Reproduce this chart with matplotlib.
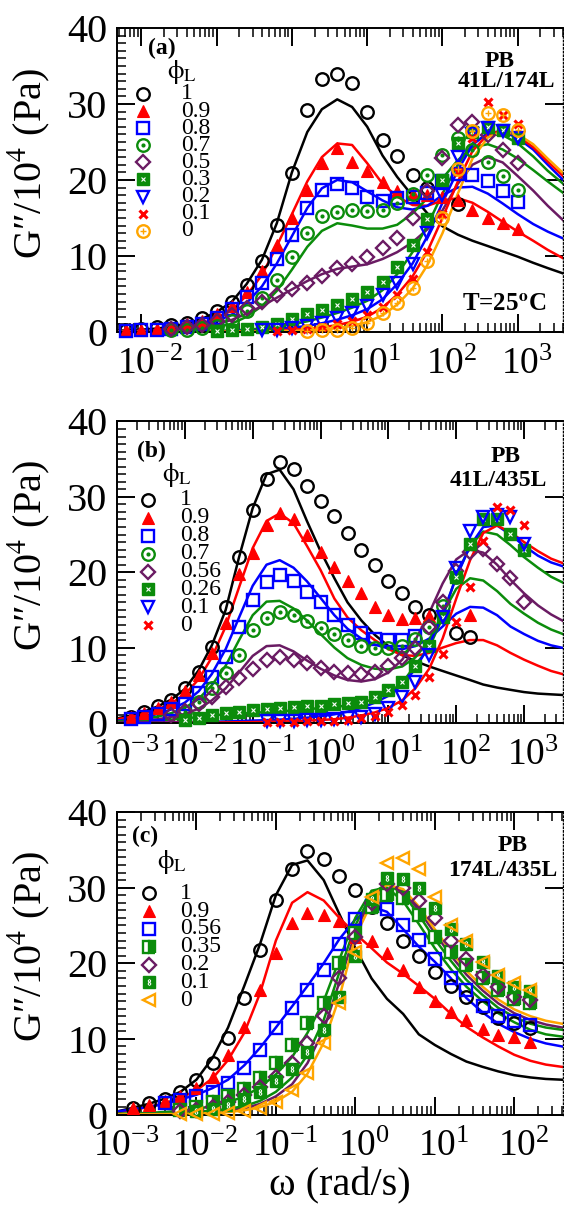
import numpy as np
import matplotlib
matplotlib.use("Agg")
import matplotlib.pyplot as plt
from matplotlib.transforms import ScaledTranslation
from matplotlib.ticker import LogLocator, MultipleLocator, LogFormatterMathtext, NullFormatter

plt.rcParams["font.family"] = "Liberation Serif"
plt.rcParams["mathtext.fontset"] = "stix"
plt.rcParams["axes.unicode_minus"] = False

nan = np.nan
green = "#0b8c0b"
purple = "#6a1b63"
orange = "#ffa500"

# ---------------- (a) PB 41L/174L ----------------
a_freq = [0.004, 0.0063, 0.01, 0.016, 0.025, 0.04, 0.063, 0.1, 0.16, 0.25, 0.4, 0.63, 1.0, 1.6, 2.5, 4.0,
          6.3, 10, 16, 25, 40, 63, 100, 160, 250, 400, 630, 1000, 1600, 2500, 4000]
a_pts_1 = [nan, 0.3, 0.35, 0.6, 0.9, 1.2, 1.8, 2.7, 3.9, 6.2, 9.3, 14.1, 20.9, 29.2, 33.3, 34.0, 32.8, 29.0,
           25.2, 23.2, 20.6, 18.9, nan, 16.8, nan, nan, nan, nan, nan, nan, nan]
a_fit_1 = [0.15, 0.2, 0.3, 0.45, 0.7, 1.1, 1.7, 2.6, 4.0, 6.3, 9.5, 14.3, 21.0, 26.3, 29.3, 30.6, 29.6, 27.0,
           23.2, 20.4, 17.9, 15.6, 13.9, 12.8, 12.0, 11.3, 10.6, 9.9, 9.1, 8.4, 7.7]
a_pts_09 = [nan, 0.2, 0.3, 0.45, 0.7, 1.0, 1.5, 2.3, 3.4, 5.2, 8.0, 11.4, 15.0, 18.7, 22.2, 24.2, 22.3, 21.2,
            19.7, 18.5, 18.2, 18.0, 17.8, 17.4, 16.1, 15.0, 14.3, 13.6, nan, nan, nan]
a_fit_09 = [0.08, 0.1, 0.15, 0.25, 0.4, 0.7, 1.1, 1.8, 2.9, 4.8, 7.5, 11.3, 15.5, 19.8, 23.0, 24.8, 24.6, 22.2,
            19.5, 17.8, 16.7, 16.6, 17.3, 17.6, 17.0, 15.8, 14.5, 13.2, 12.0, 10.8, 9.7]
a_pts_08 = [nan, 0.15, 0.2, 0.3, 0.45, 0.7, 1.0, 1.8, 3.0, 4.6, 6.4, 9.6, 12.8, 16.3, 18.7, 19.4, 18.9, 17.8,
            17.2, 17.6, 17.8, 18.3, 19.8, 20.8, 20.6, 19.8, 18.5, 17.1, nan, nan, nan]
a_fit_08 = [0.05, 0.08, 0.12, 0.2, 0.32, 0.5, 0.85, 1.4, 2.3, 3.8, 6.0, 9.0, 12.6, 16.3, 18.9, 20.0, 19.7, 18.5,
            17.3, 16.4, 16.1, 16.6, 18.0, 19.0, 19.1, 18.2, 16.9, 15.5, 14.2, 13.2, 12.3]
a_pts_07 = [nan, nan, nan, nan, 0.2, 0.3, 0.5, 0.8, 1.5, 2.7, 4.5, 6.8, 9.9, 13.0, 15.2, 15.8, 16.1, 15.9,
            16.0, 17.0, 18.2, 20.7, 23.3, 25.5, 24.0, 22.4, 20.5, 18.7, nan, nan, nan]
a_fit_07 = [0.02, 0.03, 0.05, 0.08, 0.12, 0.2, 0.35, 0.6, 1.1, 2.0, 3.4, 5.4, 8.2, 11.2, 13.3, 14.3, 14.0, 13.6,
            13.6, 14.1, 15.6, 17.6, 20.2, 22.6, 24.3, 24.7, 24.0, 22.8, 21.3, 19.8, 18.3]
a_pts_05 = [nan, nan, nan, nan, 0.4, 0.6, 0.9, 1.4, 2.2, 3.1, 4.0, 4.9, 5.7, 6.4, 7.4, 8.4, 9.0, 9.9,
            11.0, 12.4, 15.0, 18.5, 22.9, 27.2, 27.6, 25.9, 23.9, 22.2, nan, nan, nan]
a_fit_05 = [0.02, 0.05, 0.08, 0.12, 0.2, 0.35, 0.6, 1.0, 1.6, 2.4, 3.4, 4.5, 5.6, 6.7, 7.6, 8.3, 8.6, 8.9,
            9.6, 10.5, 11.8, 13.5, 16.0, 19.5, 22.0, 23.0, 22.3, 20.5, 18.6, 16.6, 14.7]
a_pts_03 = [nan, nan, nan, nan, nan, nan, nan, 0.1, 0.2, 0.4, 0.7, 1.1, 1.7, 2.3, 2.9, 3.6, 4.3, 5.2,
            6.6, 8.5, 11.5, 14.8, 20.0, 24.8, 26.3, 27.0, 26.6, 25.5, nan, nan, nan]
a_fit_03 = [0.01, 0.01, 0.02, 0.03, 0.04, 0.06, 0.09, 0.13, 0.2, 0.3, 0.45, 0.7, 1.0, 1.4, 1.9, 2.5, 3.2, 4.1,
            5.5, 7.6, 10.5, 14.0, 18.2, 22.0, 24.8, 26.0, 25.9, 24.8, 23.1, 21.2, 19.5]
a_pts_02 = [nan, nan, nan, nan, nan, nan, nan, nan, nan, nan, 0.2, 0.3, 0.5, 0.8, 1.2, 1.8, 2.5, 3.4,
            4.8, 6.5, 9.0, 13.0, 18.0, 23.0, 26.0, 26.8, 26.5, 25.5, nan, nan, nan]
a_fit_02 = [0.01, 0.01, 0.01, 0.02, 0.03, 0.04, 0.06, 0.09, 0.13, 0.19, 0.27, 0.38, 0.55, 0.8, 1.15, 1.6, 2.2,
            3.0, 4.3, 6.3, 9.0, 12.6, 17.0, 21.3, 24.6, 26.2, 26.4, 25.5, 24.0, 22.0, 20.0]
a_pts_01 = [nan, nan, nan, nan, nan, nan, nan, nan, nan, nan, nan, 0.1, 0.2, 0.4, 0.6, 1.0, 1.5, 2.2,
            3.3, 4.8, 7.0, 10.5, 15.5, 21.0, 25.5, 30.3, 28.5, 27.4, nan, nan, nan]
a_fit_01 = [0.005, 0.007, 0.01, 0.014, 0.02, 0.028, 0.04, 0.055, 0.08, 0.11, 0.15, 0.21, 0.3, 0.42, 0.6, 0.9,
            1.35, 2.0, 3.2, 4.9, 7.3, 10.6, 15.0, 19.8, 23.8, 26.0, 26.5, 25.8, 24.3, 22.4, 20.5]
a_pts_0 = [nan, nan, nan, nan, nan, nan, nan, nan, nan, nan, nan, nan, nan, 0.1, 0.2, 0.3, 0.5, 1.2,
           2.5, 3.8, 5.8, 9.3, 15.0, 21.5, 26.5, 28.8, 28.6, 26.6, nan, nan, nan]
a_fit_0 = [0.003, 0.004, 0.006, 0.008, 0.011, 0.015, 0.02, 0.03, 0.04, 0.055, 0.075, 0.1, 0.14, 0.2, 0.3, 0.5,
           0.8, 1.3, 2.2, 3.6, 5.7, 8.8, 13.0, 18.2, 22.8, 25.6, 26.4, 26.0, 24.7, 22.8, 20.9]

# ---------------- (b) PB 41L/435L ----------------
b_freq = [0.001, 0.0016, 0.0025, 0.004, 0.0063, 0.01, 0.016, 0.025, 0.04, 0.063, 0.1, 0.16, 0.25, 0.4, 0.63,
          1.0, 1.6, 2.5, 4.0, 6.3, 10, 16, 25, 40, 63, 100, 160, 250, 400, 630, 1000, 1600, 2500, 4000]
b_pts_1 = [nan, 0.8, 1.5, 2.2, 3.0, 4.6, 6.8, 10.1, 15.4, 22.0, 28.2, 32.4, 34.6, 33.7, 31.5, 29.5, 27.5,
           25.2, 22.9, 20.9, 18.9, 17.2, 15.4, 14.3, nan, 11.9, 11.4, nan, nan, nan, nan, nan, nan, nan]
b_fit_1 = [0.6, 1.0, 1.5, 2.2, 3.1, 4.5, 7.0, 10.3, 15.0, 22.0, 28.5, 33.0, 33.6, 31.0, 26.8, 22.8, 19.2,
           16.0, 13.6, 11.7, 10.2, 9.0, 8.2, 7.5, 6.9, 6.3, 5.7, 5.1, 4.7, 4.4, 4.1, 3.9, 3.8, 3.7]
b_pts_09 = [nan, 0.8, 1.3, 2.0, 2.8, 4.2, 6.3, 9.3, 13.2, 19.8, 22.5, 26.2, 27.8, 27.1, 24.9, 22.7, 20.7,
            18.9, 17.2, 15.4, 14.3, 13.8, 13.9, 14.2, nan, nan, 14.3, nan, nan, nan, nan, nan, nan, nan]
b_fit_09 = [0.5, 0.8, 1.2, 1.8, 2.6, 3.8, 5.8, 8.7, 12.8, 18.0, 23.2, 26.8, 27.8, 26.5, 23.5, 20.3, 16.5,
            14.0, 12.3, 11.0, 9.8, 9.0, 8.9, 9.3, 10.0, 10.6, 11.0, 11.0, 10.3, 9.3, 8.4, 7.6, 6.9, 6.4]
b_pts_08 = [nan, 0.5, 0.8, 1.2, 1.8, 2.5, 4.0, 6.1, 8.8, 12.8, 16.3, 18.7, 19.6, 18.9, 17.4, 16.0, 14.3,
            13.0, 12.0, 11.2, 11.0, 11.0, 11.5, nan, nan, nan, nan, nan, nan, nan, nan, nan, nan, nan]
b_fit_08 = [0.3, 0.5, 0.8, 1.2, 1.8, 2.7, 4.2, 6.5, 9.8, 14.0, 18.2, 21.0, 21.6, 20.6, 18.8, 16.6, 14.3,
            12.5, 11.2, 10.4, 9.9, 9.8, 10.2, 11.2, 12.8, 14.5, 15.4, 15.3, 14.3, 12.8, 11.8, 10.9, 10.3, 9.9]
b_pts_07 = [nan, nan, nan, nan, nan, 1.5, 2.8, 4.6, 6.6, 9.0, 12.3, 13.9, 14.7, 14.3, 13.5, 12.6, 11.8,
            11.0, 10.2, 9.9, 9.9, 10.2, 11.2, 12.8, 15.5, 19.4, nan, nan, nan, nan, nan, nan, nan, nan]
b_fit_07 = [0.2, 0.35, 0.55, 0.85, 1.3, 2.0, 3.2, 5.0, 7.6, 11.0, 14.3, 16.1, 16.2, 15.2, 13.6, 11.8, 10.0,
            8.6, 7.7, 7.2, 7.1, 7.5, 8.7, 11.0, 14.5, 17.8, 19.2, 18.9, 17.5, 15.8, 14.5, 13.3, 12.4, 11.7]
b_pts_056 = [nan, nan, nan, nan, 1.0, 1.6, 2.5, 3.5, 4.8, 6.0, 7.2, 8.3, 8.8, 8.4, 7.9, 7.3, 6.8,
             6.6, 6.5, 6.8, 7.5, 8.6, 10.0, 12.8, 16.1, 20.2, 22.7, 23.1, 21.1, 19.2, 16.1, nan, nan, nan]
b_fit_056 = [0.1, 0.2, 0.3, 0.5, 0.8, 1.2, 1.9, 3.0, 4.6, 6.7, 8.9, 10.2, 10.3, 9.5, 8.3, 7.2, 6.3,
             5.7, 5.5, 5.8, 6.7, 8.4, 11.0, 14.6, 18.5, 21.7, 23.0, 22.6, 21.0, 19.0, 17.2, 15.6, 14.4, 13.4]
b_pts_026 = [nan, nan, nan, nan, nan, 0.4, 0.6, 1.1, 1.3, 1.5, 1.7, 1.9, 2.0, 2.1, 2.2, 2.3, 2.5,
             2.7, 2.8, 3.4, 4.4, 5.5, 7.5, 10.2, 14.0, 19.4, 23.8, 27.1, 27.1, 25.1, 22.9, nan, nan, nan]
b_fit_026 = [0.1, 0.15, 0.2, 0.3, 0.45, 0.6, 0.8, 1.0, 1.15, 1.25, 1.35, 1.45, 1.55, 1.65, 1.8, 2.0, 2.15,
             2.3, 2.7, 3.2, 4.0, 5.3, 7.7, 10.0, 14.0, 19.5, 23.5, 25.4, 25.0, 23.6, 22.0, 20.6, 19.4, 18.5]
b_pts_01 = [nan, nan, nan, nan, nan, nan, nan, nan, nan, nan, nan, 0.2, 0.25, 0.3, 0.35, 0.4, 0.5,
            0.6, 0.8, 1.2, 2.0, 3.4, 5.5, 9.0, 14.0, 20.5, 25.5, 27.3, 27.6, 27.3, 23.8, nan, nan, nan]
b_fit_01 = [0.02, 0.03, 0.04, 0.06, 0.08, 0.1, 0.13, 0.17, 0.21, 0.26, 0.32, 0.38, 0.45, 0.55, 0.7, 0.9, 1.15,
            1.5, 2.0, 2.7, 3.6, 5.0, 7.2, 10.3, 14.5, 19.3, 23.5, 26.0, 26.2, 25.0, 23.5, 22.2, 21.3, 20.7]
b_pts_0 = [nan, nan, nan, nan, nan, nan, nan, nan, nan, nan, nan, 0.1, 0.1, 0.15, 0.2, 0.25, 0.3,
           0.4, 0.6, 0.9, 1.5, 2.4, 3.7, 6.1, 9.2, 13.4, 18.0, 24.2, 28.7, 28.2, 26.2, nan, nan, nan]
b_fit_0 = [0.01, 0.01, 0.02, 0.02, 0.03, 0.04, 0.05, 0.06, 0.08, 0.1, 0.12, 0.15, 0.19, 0.24, 0.3, 0.4, 0.5,
           0.7, 1.0, 1.4, 2.0, 3.0, 4.6, 7.2, 11.2, 16.5, 21.6, 25.2, 26.2, 25.3, 24.0, 22.8, 21.8, 21.1]

# ---------------- (c) PB 174L/435L ----------------
c_freq = [0.001, 0.0016, 0.0025, 0.004, 0.0063, 0.01, 0.016, 0.025, 0.04, 0.063, 0.1, 0.16, 0.25, 0.4, 0.63,
          1.0, 1.6, 2.5, 4.0, 6.3, 10, 16, 25, 40, 63, 100, 160, 250, 400]
c_pts_1 = [nan, 0.8, 1.5, 2.1, 3.0, 4.6, 6.8, 10.1, 15.4, 21.8, 28.4, 32.5, 34.8, 33.8, 31.6, 29.7, 27.5,
           25.3, 23.0, 20.9, 18.9, 17.0, 15.5, 14.2, 12.7, 12.1, 11.4, nan, nan]
c_fit_1 = [0.4, 0.9, 1.4, 2.1, 3.0, 4.6, 7.5, 11.5, 17.0, 22.5, 29.0, 33.0, 33.6, 31.0, 26.5, 22.0, 18.0,
           15.3, 13.3, 10.6, 9.2, 8.0, 7.0, 6.3, 5.7, 5.2, 4.9, 4.7, 4.6]
c_pts_09 = [nan, 0.8, 1.3, 1.8, 2.5, 3.5, 5.0, 7.9, 11.6, 16.5, 21.4, 25.3, 26.6, 26.4, 25.6, 23.5, 22.9,
            21.4, 19.1, 16.8, 15.0, 13.6, 12.5, 11.3, 10.5, 10.3, 9.6, nan, nan]
c_fit_09 = [0.3, 0.6, 1.0, 1.5, 2.2, 3.2, 4.8, 7.2, 10.8, 16.0, 23.0, 28.0, 29.4, 28.3, 26.0, 23.9, 22.0,
            20.1, 18.6, 17.0, 15.3, 13.3, 11.6, 10.2, 9.0, 7.9, 7.1, 6.6, 6.3]
c_pts_056 = [nan, nan, nan, 1.5, 1.9, 2.4, 3.0, 4.1, 6.1, 8.5, 11.4, 14.1, 16.5, 19.1, 22.5, 25.8, 27.6,
             27.2, 25.1, 23.1, 20.6, 18.0, 16.4, 14.3, 13.0, 12.3, 11.9, nan, nan]
c_fit_056 = [0.4, 0.7, 1.0, 1.4, 2.0, 2.6, 3.5, 4.6, 6.5, 8.8, 11.5, 14.3, 17.0, 20.0, 23.2, 25.8, 27.5,
             26.8, 24.5, 22.2, 20.2, 18.0, 15.4, 13.5, 12.0, 10.9, 10.0, 9.4, 9.0]
c_pts_035 = [nan, nan, nan, nan, 0.6, 1.0, 1.6, 2.4, 3.4, 4.8, 6.8, 9.2, 12.1, 14.7, 20.0, 24.0, 27.5,
             29.0, 28.6, 26.4, 23.5, 21.5, 19.8, 18.0, 16.5, 15.3, 14.7, nan, nan]
c_fit_035 = [0.1, 0.15, 0.22, 0.33, 0.5, 0.75, 1.1, 1.6, 2.4, 3.6, 5.3, 7.6, 10.8, 15.0, 20.5, 26.0, 29.6,
             30.0, 28.2, 25.2, 22.0, 19.2, 16.9, 15.0, 13.4, 12.2, 11.2, 10.6, 10.3]
c_pts_02 = [nan, nan, nan, nan, 0.4, 0.6, 1.0, 1.6, 2.6, 3.7, 5.0, 6.8, 9.4, 13.0, 18.0, 23.5, 28.0,
            30.5, 30.0, 28.2, 26.0, 23.0, 20.5, 18.5, 16.9, 15.6, 15.2, nan, nan]
c_fit_02 = [0.02, 0.04, 0.07, 0.11, 0.17, 0.26, 0.38, 0.55, 0.8, 1.4, 2.4, 4.0, 6.8, 11.2, 17.5, 24.0, 28.8,
            30.5, 29.5, 27.0, 24.0, 21.0, 18.5, 16.4, 14.7, 13.4, 12.5, 11.9, 11.5]
c_pts_01 = [nan, nan, nan, nan, nan, 0.4, 0.7, 1.2, 2.0, 3.0, 4.4, 6.0, 8.3, 11.2, 15.5, 21.0, 28.5,
            31.3, 31.2, 30.0, 27.3, 24.5, 22.5, 20.2, 18.3, 16.8, 16.3, nan, nan]
c_fit_01 = [0.03, 0.06, 0.1, 0.15, 0.23, 0.35, 0.5, 0.75, 1.1, 1.8, 3.0, 4.9, 7.9, 12.5, 18.8, 25.0, 29.2,
            30.5, 29.2, 26.4, 23.2, 20.3, 17.8, 15.8, 14.1, 12.9, 12.0, 11.5, 11.2]
c_pts_0 = [nan, nan, nan, nan, 0.02, 0.05, 0.1, 0.2, 0.4, 0.8, 1.7, 3.2, 5.5, 9.4, 14.7, 21.5, 28.8,
           33.3, 33.9, 32.4, 28.8, 25.1, 22.9, 20.2, 18.5, 17.4, 16.5, nan, nan]
c_fit_0 = [0.01, 0.02, 0.03, 0.05, 0.08, 0.12, 0.2, 0.32, 0.55, 0.95, 1.7, 3.0, 5.4, 9.5, 15.5, 23.5, 28.0,
           30.4, 29.8, 27.5, 24.5, 21.6, 19.0, 16.9, 15.2, 13.9, 13.0, 12.4, 12.0]

# marker styles: (outer marker, optional inner pattern)
STYLES = {
    "circ_k": (dict(marker="o", mfc="none", mec="k", ms=9, mew=1.7), None),
    "tri_r": (dict(marker="^", mfc="r", mec="r", ms=9, mew=0.8), None),
    "sq_b": (dict(marker="s", mfc="none", mec="b", ms=8, mew=1.7), None),
    "circ_g": (dict(marker="o", mfc="none", mec=green, ms=9, mew=1.7),
               dict(marker="o", mfc=green, mec=green, ms=3, mew=0)),
    "dia_p": (dict(marker="D", mfc="none", mec=purple, ms=7, mew=1.7), None),
    "sqx_g": (dict(marker="s", mfc=green, mec=green, ms=8, mew=1),
              dict(marker="x", mec="white", ms=3, mew=0.8)),
    "tdn_b": (dict(marker="v", mfc="none", mec="b", ms=9, mew=1.7), None),
    "x_r": (dict(marker="x", mec="r", ms=5.5, mew=2.2), None),
    "circ_o": (dict(marker="o", mfc="none", mec=orange, ms=9, mew=1.7),
               dict(marker="+", mec=orange, ms=5, mew=1)),
    "sqh_g": (dict(marker="s", mfc=green, mfcalt="white", fillstyle="right", mec=green, ms=8, mew=1.7), None),
    "sq8_g": (dict(marker="s", mfc=green, mec=green, ms=8, mew=1),
              dict(marker="$8$", mfc="white", mec="white", ms=4, mew=0.3)),
    "tl_o": (dict(marker="<", mfc="none", mec=orange, ms=9, mew=1.7), None),
}

panels = [
    dict(rect=[0.2074, 0.7252, 0.7917, 0.2517], xlim=(0.00475, 4045), freq=a_freq, tag="(a)",
         tag_xy=(0.07, 0.931), phi_xy=(0.111, 0.855), leg=(0.058, 0.143, 0.783, 0.0563),
         title=("PB", (0.856, 0.891), "41L/174L", (0.873, 0.823)), temp=(0.866, 0.089),
         series=[("1", "circ_k", "k", a_pts_1, a_fit_1),
                 ("0.9", "tri_r", "r", a_pts_09, a_fit_09),
                 ("0.8", "sq_b", "b", a_pts_08, a_fit_08),
                 ("0.7", "circ_g", green, a_pts_07, a_fit_07),
                 ("0.5", "dia_p", purple, a_pts_05, a_fit_05),
                 ("0.3", "sqx_g", green, a_pts_03, a_fit_03),
                 ("0.2", "tdn_b", "b", a_pts_02, a_fit_02),
                 ("0.1", "x_r", "r", a_pts_01, a_fit_01),
                 ("0", "circ_o", orange, a_pts_0, a_fit_0)]),
    dict(rect=[0.2074, 0.4015, 0.7917, 0.2496], xlim=(0.001, 3810), freq=b_freq, tag="(b)",
         tag_xy=(0.044, 0.902), phi_xy=(0.1, 0.822), leg=(0.070, 0.141, 0.740, 0.0594),
         title=("PB", (0.870, 0.883), "41L/435L", (0.855, 0.803)), temp=None,
         series=[("1", "circ_k", "k", b_pts_1, b_fit_1),
                 ("0.9", "tri_r", "r", b_pts_09, b_fit_09),
                 ("0.8", "sq_b", "b", b_pts_08, b_fit_08),
                 ("0.7", "circ_g", green, b_pts_07, b_fit_07),
                 ("0.56", "dia_p", purple, b_pts_056, b_fit_056),
                 ("0.26", "sqx_g", green, b_pts_026, b_fit_026),
                 ("0.1", "tdn_b", "b", b_pts_01, b_fit_01),
                 ("0", "x_r", "r", b_pts_0, b_fit_0)]),
    dict(rect=[0.2074, 0.0774, 0.7917, 0.2504], xlim=(0.001, 417), freq=c_freq, tag="(c)",
         tag_xy=(0.033, 0.918), phi_xy=(0.089, 0.835), leg=(0.072, 0.141, 0.731, 0.0588),
         title=("PB", (0.885, 0.888), "174L/435L", (0.864, 0.808)), temp=None,
         series=[("1", "circ_k", "k", c_pts_1, c_fit_1),
                 ("0.9", "tri_r", "r", c_pts_09, c_fit_09),
                 ("0.56", "sq_b", "b", c_pts_056, c_fit_056),
                 ("0.35", "sqh_g", green, c_pts_035, c_fit_035),
                 ("0.2", "dia_p", purple, c_pts_02, c_fit_02),
                 ("0.1", "sq8_g", green, c_pts_01, c_fit_01),
                 ("0", "tl_o", orange, c_pts_0, c_fit_0)]),
]


def mark(ax, x, y, style, **kw):
    outer, inner = STYLES[style]
    ax.plot(x, y, ls="none", clip_on=False, zorder=3, **outer, **kw)
    if inner is not None:
        ax.plot(x, y, ls="none", clip_on=False, zorder=3, **inner, **kw)


fig = plt.figure(figsize=(5.64, 12.08), dpi=100)
# shift decade labels right so the "10" sits under the tick and the exponent hangs off
label_shift = ScaledTranslation(0.09, 0, fig.dpi_scale_trans)

for i, p in enumerate(panels):
    ax = fig.add_axes(p["rect"])
    ax.set_xscale("log")
    for lab, st, col, pts, fit in p["series"]:
        ax.plot(p["freq"], fit, color=col, lw=1.8, zorder=2)
    for lab, st, col, pts, fit in p["series"]:
        mark(ax, p["freq"], pts, st)

    ax.set_xlim(*p["xlim"])
    ax.set_ylim(0, 40)

    ax.xaxis.set_major_locator(LogLocator(base=10, numticks=20))
    ax.xaxis.set_minor_locator(LogLocator(base=10, subs=np.arange(2, 10), numticks=20))
    ax.xaxis.set_major_formatter(LogFormatterMathtext())
    ax.xaxis.set_minor_formatter(NullFormatter())
    ax.yaxis.set_major_locator(MultipleLocator(10))
    ax.yaxis.set_minor_locator(MultipleLocator(1))
    ax.tick_params(which="major", direction="in", length=13, width=1.4,
                   top=True, right=True)
    ax.tick_params(axis="y", which="major", labelsize=29, pad=7)
    ax.tick_params(axis="x", which="major", labelsize=27, pad=11)
    ax.tick_params(which="minor", direction="in", length=6.5, width=1.1, top=True, right=False)
    for lbl in ax.get_xticklabels():
        lbl.set_transform(lbl.get_transform() + label_shift)
    for s in ax.spines.values():
        s.set_linewidth(1.4)
    ax.spines["right"].set_linestyle(":")
    ax.spines["right"].set_linewidth(1.0)

    ax.set_ylabel("G\u2033/10$^4$ (Pa)", fontsize=29)
    ax.yaxis.set_label_coords(-0.145, 0.555)

    # panel tag and legend
    ax.text(*p["tag_xy"], p["tag"], transform=ax.transAxes, fontsize=17, fontweight="bold",
            ha="left", va="center")
    ax.text(*p["phi_xy"], r"$\mathrm{\phi}_\mathrm{L}$", transform=ax.transAxes, fontsize=19,
            ha="left", va="center")
    mx, tx, y0, dy = p["leg"]
    for k, (lab, st, col, pts, fit) in enumerate(p["series"]):
        yy = y0 - k * dy
        mark(ax, [mx], [yy], st, transform=ax.transAxes)
        ax.text(tx, yy, lab, transform=ax.transAxes, fontsize=17, ha="left", va="center")

    t1, xy1, t2, xy2 = p["title"]
    ax.text(*xy1, t1, transform=ax.transAxes, fontsize=17, fontweight="bold", ha="center", va="center")
    ax.text(*xy2, t2, transform=ax.transAxes, fontsize=17, fontweight="bold", ha="center", va="center")
    if p["temp"] is not None:
        ax.text(*p["temp"], r"T=25$^{\mathbf{o}}$C", transform=ax.transAxes, fontsize=18,
                fontweight="bold", ha="center", va="center")

    if i == 2:
        ax.set_xlabel("\u03c9 (rad/s)", fontsize=29, labelpad=2)

fig.savefig("out.png", dpi=100)
